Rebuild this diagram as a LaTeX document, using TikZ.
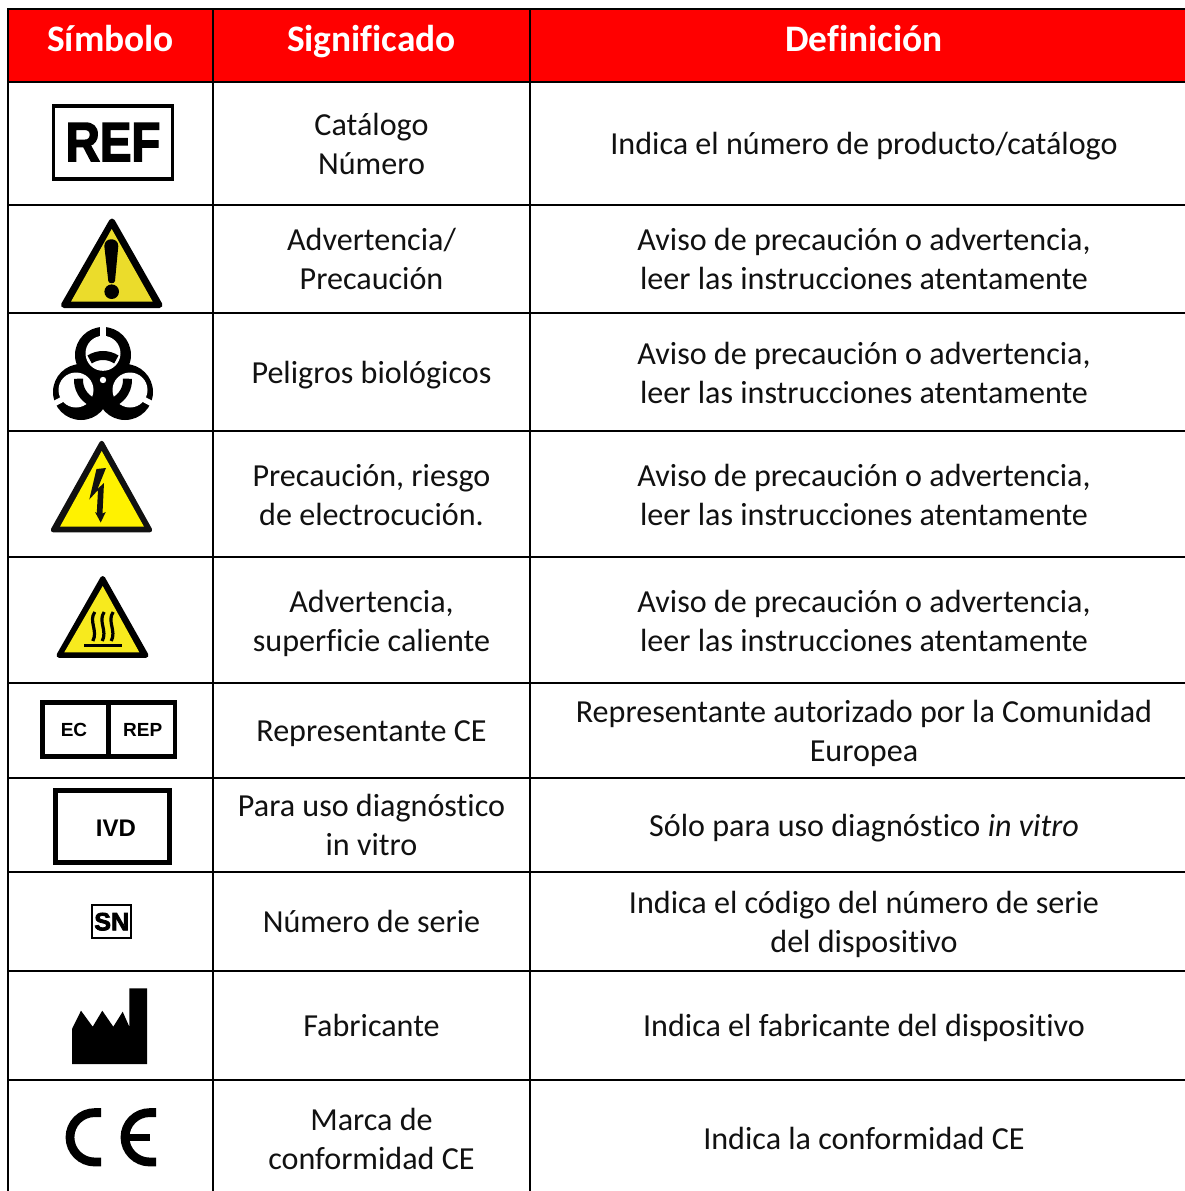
\documentclass[tikz,border=0pt]{standalone}
\usepackage{fontspec}
\setmainfont[RawFeature=-liga]{Carlito}
\newfontfamily\arialf{Liberation Sans}
\newfontfamily\heavyf[FakeBold=3]{Liberation Sans Bold}
\usetikzlibrary{calc}
\definecolor{hdrred}{HTML}{FF0000}
\definecolor{warny}{HTML}{EBDC2B}
\definecolor{elecy}{HTML}{FFF200}
\definecolor{hoty}{HTML}{F7EA1E}
\definecolor{inkc}{HTML}{111111}
\newcommand{\cst}{\rule[-10pt]{0pt}{39pt}}
\newcommand{\twol}[2]{\cst #1\\\cst #2}
\newcommand{\onel}[1]{\cst #1}
\tikzset{
  rule/.style={line width=2.4pt,black},
  hdr/.style={font=\fontsize{37.4}{42}\selectfont\bfseries,text=white,inner sep=0pt},
  cell/.style={font=\fontsize{32.1}{39}\selectfont,text=inkc,align=center,inner sep=0pt},
  sym/.style={text=black,inner sep=0pt},
  boxln/.style={draw=black,fill=white},
  tri/.style={fill=black,draw=black,line join=round},
}
\begin{document}
\begin{tikzpicture}[x=1pt,y=-1pt]
\useasboundingbox (0,0) rectangle (1185,1191);
\fill[white] (0,0) rectangle (1185,1191);
% header
\fill[hdrred] (8,9) rectangle (1185,82);
% rules
\foreach \yy in {9,82,205,313,431,557,683,778,872,971,1080}
  \draw[rule] (8,\yy) -- (1185,\yy);
\foreach \xx in {8,213,530}
  \draw[rule] (\xx,8) -- (\xx,1191);
% header text
\node[hdr] (h1) at (110.5,43) {\rule[-9pt]{0pt}{34pt}Símbolo};
\node[hdr] (h2) at (371.5,43) {\rule[-9pt]{0pt}{34pt}Significado};
\node[hdr] (h3) at (864,43) {\rule[-9pt]{0pt}{34pt}Definición};
% column 2
\node[cell] (a1) at (371.5,145) {\twol{Catálogo}{Número}};
\node[cell] (a2) at (371.5,260) {\twol{Advertencia/}{Precaución}};
\node[cell] (a3) at (371.5,373.5) {\onel{Peligros biológicos}};
\node[cell] (a4) at (371.5,496) {\twol{Precaución, riesgo}{de electrocución.}};
\node[cell] (a5) at (371.5,622) {\twol{Advertencia,}{superficie caliente}};
\node[cell] (a6) at (371.5,731.5) {\onel{Representante CE}};
\node[cell] (a7) at (371.5,826) {\twol{Para uso diagnóstico}{in vitro}};
\node[cell] (a8) at (371.5,922.5) {\onel{Número de serie}};
\node[cell] (a9) at (371.5,1026.5) {\onel{Fabricante}};
\node[cell] (a10) at (371.5,1140) {\twol{Marca de}{conformidad CE}};
% column 3
\node[cell] (b1) at (864,144.5) {\onel{Indica el número de producto/catálogo}};
\node[cell] (b2) at (864,260) {\twol{Aviso de precaución o advertencia,}{leer las instrucciones atentamente}};
\node[cell] (b3) at (864,374) {\twol{Aviso de precaución o advertencia,}{leer las instrucciones atentamente}};
\node[cell] (b4) at (864,496) {\twol{Aviso de precaución o advertencia,}{leer las instrucciones atentamente}};
\node[cell] (b5) at (864,622) {\twol{Aviso de precaución o advertencia,}{leer las instrucciones atentamente}};
\node[cell] (b6) at (864,732) {\twol{Representante autorizado por la Comunidad}{Europea}};
\node[cell] (b7) at (864,826.5) {\onel{Sólo para uso diagnóstico \textit{in vitro}}};
\node[cell] (b8) at (864,923) {\twol{Indica el código del número de serie}{del dispositivo}};
\node[cell] (b9) at (864,1026.5) {\onel{Indica el fabricante del dispositivo}};
\node[cell] (b10) at (864,1139.5) {\onel{Indica la conformidad CE}};
% REF
\draw[boxln,line width=3.6pt] (53.5,105.8) rectangle (172.5,178.9);
\node[sym,font=\heavyf\fontsize{55}{55}\selectfont] (ref) at (113,142) {\scalebox{.86}[1]{REF}};
% warning
\draw[tri,line width=6pt] (112,221.5) -- (64,305) -- (159.5,305) -- cycle;
\fill[warny] (111.7,229) -- (71,301.7) -- (152.7,301.7) -- cycle;
\fill[black] (104.3,246) .. controls (104.3,237) and (118.3,237) .. (118.3,246) -- (115,281) .. controls (114.5,284) and (108.8,284) .. (108.3,281) -- cycle;
\fill[black] (111.7,291.7) circle[radius=7.3pt];
% biohazard
\fill[black] (103,355) circle[radius=28pt] (81,392) circle[radius=28pt] (125,392) circle[radius=28pt];
\fill[white] (103,353.3) circle[radius=17.5pt] (76,390) circle[radius=17.5pt] (130,390) circle[radius=17.5pt];
\foreach \cx/\cy/\ang in {103/355/90,78/391/208,128/391/332}
  \draw[white,line width=5.5pt] (\cx,\cy) ++(\ang:12pt) -- ++(\ang:20pt);
\foreach \ang in {90,210,330}
  \draw[black,line width=9pt] (103,380) ++(\ang-33:24.5pt) arc[start angle=\ang-33,end angle=\ang+33,radius=24.5pt];
\fill[white] (103,380) circle[radius=3.2pt];
% electric
\draw[tri,line width=4.5pt,draw=inkc,fill=inkc] (101.7,443) -- (53,530) -- (150,530) -- cycle;
\fill[elecy] (101.7,451) -- (60,526.7) -- (144,526.7) -- cycle;
\fill[inkc] (106,468) -- (96.5,469) -- (89.3,499.5) -- (98,490) -- (96.8,513) -- (95,512) -- (100.7,522.5) -- (105.8,512) -- (102.5,513.5) -- (104,483) -- (97.5,489) -- cycle;
% hot
\draw[tri,line width=5pt] (102.7,578.5) -- (59,655.3) -- (146,655.3) -- cycle;
\fill[hoty] (102.7,586) -- (64.3,652.3) -- (139.3,652.3) -- cycle;
\foreach \wx in {93.3,102.7,111.7}
  \draw[black,line width=3.2pt] (\wx+1.5,612) .. controls (\wx-5,621) and (\wx+5,631) .. (\wx-.5,641);
\draw[black,line width=3pt] (84,645.7) -- (121.7,645.7);
% EC REP
\draw[boxln,line width=4.7pt] (42.3,702.3) rectangle (175,756.7);
\draw[black,line width=4.7pt] (108.7,702.3) -- (108.7,756.7);
\node[sym,font=\arialf\bfseries\fontsize{19}{19}\selectfont] (ec) at (74,730) {EC};
\node[sym,font=\arialf\bfseries\fontsize{19}{19}\selectfont] (rep) at (142.7,730) {REP};
% IVD
\draw[boxln,line width=5.4pt] (55.4,790.7) rectangle (169.6,862.3);
\node[sym,font=\arialf\bfseries\fontsize{24}{24}\selectfont] (ivd) at (116,828) {IVD};
% SN
\draw[boxln,line width=1.8pt] (92,905) rectangle (130.8,937.8);
\node[sym,font=\heavyf\fontsize{25}{25}\selectfont] (sn) at (111.7,921.7) {SN};
% factory
\fill[black,line join=round] (72,1029) -- (81,1010.7) -- (92.7,1026.7) -- (102.3,1010.7) -- (113.3,1026.7) -- (122.7,1011.7) -- (129.3,1026.7) -- (129.3,988.3) -- (147,988.3) -- (147,1064) -- (72,1064) -- cycle;
% CE
\draw[black,line width=8.8pt] (101,1112.6) -- (94.7,1112.6) arc[start angle=90,end angle=270,radius=24.7pt] -- (101,1162);
\draw[black,line width=8.8pt] (156,1112.6) -- (149.7,1112.6) arc[start angle=90,end angle=270,radius=24.7pt] -- (156,1162);
\fill[black] (128,1133.5) rectangle (150,1141);
\end{tikzpicture}
\end{document}
